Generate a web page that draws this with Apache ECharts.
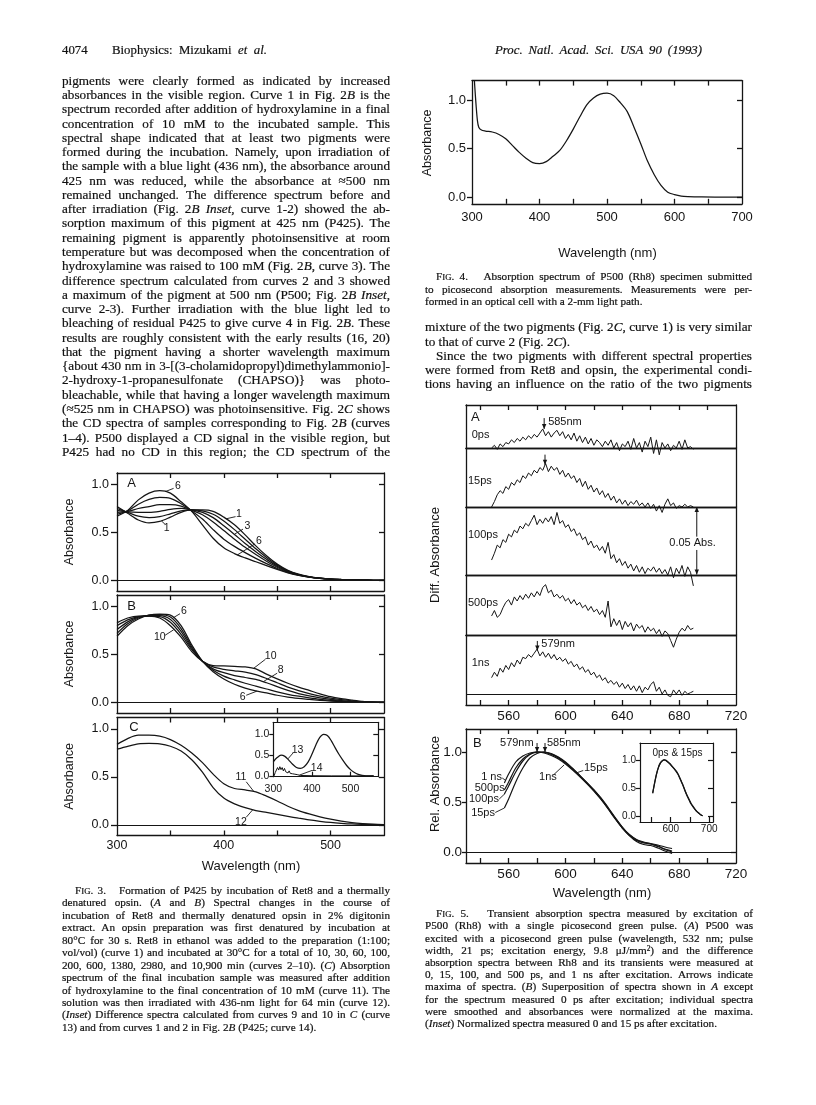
<!DOCTYPE html>
<html>
<head>
<meta charset="utf-8">
<title>Mizukami et al. 1993 – Figs. 3–5</title>
<script src="https://cdn.jsdelivr.net/npm/echarts@6.0.0/dist/echarts.min.js"></script>
<style>
html,body{margin:0;padding:0;background:#fff;}
body{position:relative;width:816px;height:1105px;overflow:hidden;}
#chart{position:absolute;left:0;top:0;width:816px;height:1105px;z-index:1;}
.t{position:absolute;white-space:nowrap;font-family:"Liberation Serif","Times New Roman",Times,serif;color:#111;line-height:1;z-index:2;-webkit-text-stroke:0.2px #111;}
.t small{font-size:78%;}
.t sup{font-size:65%;line-height:0;vertical-align:0.45em;}
</style>
</head>
<body>
<div id="chart"></div>
<script>
// ================= DATA =================
// ---- Fig. 3 (A, B, C): absorbance vs wavelength (nm)
const wl3 = [300,310,320,330,340,350,360,370,380,390,400,410,420,430,440,450,460,470,480,490,500,510,520,530,540,550];
const a1 = [.77,.70,.63,.60,.615,.66,.71,.735,.735,.72,.66,.58,.475,.36,.257,.17,.105,.065,.04,.025,.015,.01,.006,.004,.002,.001];
const a2 = [.75,.71,.67,.655,.665,.695,.725,.735,.725,.69,.62,.53,.43,.33,.24,.16,.10,.062,.038,.024,.015,.01,.006,.004,.002,.001];
const a3 = [.73,.715,.71,.71,.72,.74,.75,.735,.71,.655,.57,.48,.385,.30,.22,.148,.095,.06,.037,.023,.014,.009,.006,.004,.002,.001];
const a4 = [.71,.72,.75,.77,.79,.79,.775,.73,.685,.61,.52,.43,.345,.27,.20,.138,.09,.057,.036,.022,.014,.009,.005,.003,.002,.001];
const a5 = [.69,.725,.795,.845,.865,.855,.80,.725,.64,.53,.43,.355,.29,.23,.175,.125,.085,.055,.035,.022,.014,.009,.005,.003,.002,.001];
const a6 = [.67,.73,.84,.91,.935,.91,.82,.72,.58,.44,.34,.28,.235,.195,.155,.115,.08,.054,.034,.022,.014,.009,.005,.003,.002,.001];
const b6 = [.69,.80,.87,.91,.92,.91,.80,.60,.43,.32,.245,.19,.15,.12,.10,.075,.055,.042,.032,.022,.014,.008,.005,.003,.001,0];
const b7 = [.72,.82,.88,.91,.915,.89,.77,.58,.43,.335,.275,.235,.20,.17,.14,.11,.085,.065,.048,.033,.022,.014,.008,.005,.002,.001];
const b8 = [.76,.84,.89,.905,.905,.865,.74,.565,.43,.35,.31,.28,.26,.24,.205,.165,.125,.093,.068,.047,.031,.02,.012,.006,.003,.001];
const b9 = [.80,.86,.895,.90,.895,.835,.71,.55,.43,.37,.345,.33,.315,.29,.25,.205,.16,.124,.093,.067,.045,.029,.017,.009,.004,.002];
const b10 = [.83,.88,.90,.90,.88,.80,.68,.53,.43,.385,.38,.375,.37,.35,.295,.245,.20,.16,.125,.09,.06,.04,.025,.012,.006,.003];
const c11 = [.84,.90,.935,.935,.925,.89,.83,.75,.65,.53,.43,.38,.365,.345,.30,.25,.195,.15,.115,.085,.06,.04,.025,.015,.008,.004];
const c12 = [.79,.82,.845,.85,.845,.82,.77,.68,.55,.39,.28,.22,.18,.15,.13,.11,.09,.07,.052,.038,.026,.017,.01,.006,.003,.001];
// Fig. 3C inset: difference spectra
const wlInset3 = [300,310,320,330,340,350,360,370,380,390,400,410,420,430,440,450,460,470,480,490,500,510,520,530,540,550,560];
const c13 = [.34,.44,.50,.47,.38,.28,.20,.18,.22,.33,.52,.74,.92,1.0,.97,.85,.68,.52,.38,.25,.15,.08,.035,.01,0,0,0];
const wl14 = [302,305,308,311,314,317,320,323,326,329,332,335,338,341,344,347,350,353,356,359,362,370,400,450,500,560];
const c14 = [0,.08,.12,.2,.14,.22,.15,.2,.12,.18,.1,.14,.07,.12,.06,.1,.05,.09,.04,.07,.03,.01,.004,0,0,0];

// ---- Fig. 4: absorption spectrum of P500 (Rh8)
const wl4 = [302,304,306,308,310,314,320,330,340,350,360,370,380,390,400,410,420,430,440,450,460,470,480,490,500,510,520,530,540,550,560,570,580,590,600,610,620,640,660,680,700];
const abs4 = [1.4,1.15,.95,.79,.72,.69,.68,.67,.645,.60,.53,.46,.40,.355,.345,.365,.42,.48,.58,.70,.83,.95,1.02,1.06,1.07,1.045,.97,.88,.72,.55,.37,.23,.12,.05,.025,.01,.005,.001,0,0,0];

// ---- Fig. 5A: difference absorbance traces (units of 0.001 Abs)
const wl5A = [548,550,552,554,556,558,560,562,564,566,568,570,572,574,576,578,580,582,584,586,588,590,592,594,596,598,600,602,604,606,608,610,612,614,616,618,620,622,624,626,628,630,632,634,636,638,640,642,644,646,648,650,652,654,656,658,660,662,664,666,668,670,672,674,676,678,680,682,684,686,688,690];
const d0ps = [0,2,-1,3,1,4,3,6,4,7, 5,8,6,9,7,10,8,11,14,9, 12,8,11,13,9,12,7,10,6,11, 5,9,4,8,3,7,2,6,4,1, 5,2,6,0,4,-2,3,1,5,-1, 7,0,4,-3,5,1,8,-4,6,-5, 4,0,3,-2,2,0,5,-1,6,0,1,-1];
const d15ps = [0,4,9,12,10,15,13,18,16,20, 18,23,21,25,23,27,25,29,27,32, 26,30,27,29,24,27,22,25,21,23, 18,21,15,19,13,16,11,14,9,12, 7,10,5,8,3,6,2,5,1,4, 2,5,1,3,0,3,-1,2,-3,1, -4,2,6,1,3,-1,1,0,2,0,1,0];
const d100ps = [11,16,22,20,26,24,30,28,33,31, 36,34,38,36,40,44,37,41,38,42, 39,43,37,46,38,40,35,37,32,34, 29,31,26,28,22,25,20,22,18,21, 16,24,12,15,9,12,7,10,5,8, 3,7,2,6,1,5,3,6,2,5, 1,4,0,6,-2,5,1,7,-1,6,2,-8];
const d500ps = [14,18,13,15,20,24,26,22,28,25, 29,26,30,27,31,28,32,29,35,37, 31,33,28,30,27,29,25,27,23,26, 22,24,20,22,18,21,17,19,15,18, 13,25,6,12,7,11,4,10,6,9, 3,8,5,7,2,6,3,5,1,4, -1,3,1,-4,-9,-3,2,5,3,7,4,5];
const d1ns = [12,16,13,19,16,21,18,23,20,25, 22,27,26,29,27,30,33,28,31,27, 30,26,29,25,27,24,26,22,24,20, 22,18,20,16,18,14,16,12,14,10, 12,8,10,7,9,5,8,4,7,3, 6,2,6,1,5,3,7,9,2,5, 0,3,-1,-2,3,0,3,-1,2,0,1,2];

// ---- Fig. 5B: smoothed, normalized spectra
const wl5B = [557,560,565,570,575,580,585,590,595,600,605,610,615,620,625,630,635,640,645,650,655,660,665,670,675];
const r1ns = [.69,.78,.90,.96,.99,1.0,.99,.965,.93,.88,.82,.755,.685,.61,.525,.43,.33,.24,.17,.12,.095,.085,.07,.05,.035];
const r500ps = [.62,.70,.84,.93,.98,1.0,.995,.975,.94,.89,.83,.76,.69,.615,.53,.435,.335,.24,.165,.115,.09,.08,.055,.025,0];
const r100ps = [.58,.66,.80,.91,.975,.998,1.0,.98,.945,.895,.835,.765,.695,.62,.54,.445,.345,.25,.165,.105,.075,.065,.04,.01,-.015];
const r15ps = [.44,.53,.70,.84,.94,.985,1.0,.985,.95,.90,.835,.765,.69,.62,.535,.44,.34,.245,.175,.125,.10,.08,.06,.03,.01];
// Fig. 5B inset: normalized spectra 0 ps and 15 ps
const wlInset5 = [553,558,563,568,573,578,583,588,593,598,603,608,613,618,623,628,633,638,643,648,653,658,663,668,673,678,683];
const n0ps = [.40,.58,.74,.86,.94,.98,1.0,.99,.96,.93,.89,.85,.81,.76,.69,.61,.53,.44,.36,.29,.22,.17,.12,.08,.05,.02,0];
const n15ps = [.41,.59,.75,.87,.945,.985,1.0,.985,.955,.925,.885,.845,.80,.75,.68,.60,.52,.43,.35,.28,.21,.16,.115,.075,.045,.02,0];

// ---- ticks and tick labels
const yTicks = [0, 0.5, 1];
const ticks3 = [350,400,450,500];
const labels3 = [300,400,500];
const ticksInset3 = [400,500];
const ticks4 = [350,400,450,500,550,600,650];
const labels4 = [300,400,500,600,700];
const ticks5 = [540,560,580,600,620,640,660,680,700];
const labels5 = [560,600,640,680,720];
const ticksInset5 = [550,600,650,700];
const labelsInset5 = [600,700];

// ---- curve-number annotations: [text, labelX, labelY, leaderX1, leaderY1, leaderX2, leaderY2] (data units)
const notes3A = [['6',357,0.985,353,0.96,345,0.925],['1',346.5,0.548,345,0.585,341.5,0.622],['1',414.2,0.694,411,0.665,402,0.642],['3',422,0.564,418,0.535,410,0.482],['6',433,0.415,429,0.38,413,0.268]];
const notes3B = [['6',362.7,0.948,359,0.925,353,0.885],['10',340,0.68,345,0.70,353,0.757],['10',443.9,0.486,439,0.45,428,0.356],['8',453.3,0.333,450,0.305,437,0.217],['6',417.7,0.056,421,0.075,431,0.118]];
const notes3C = [['11',416,0.50,421,0.45,428,0.35],['12',416,0.034,421,0.08,427,0.157]];
const notes3Inset = [['13',363,0.62,352,0.56,338,0.41],['14',412.4,0.185,400,0.13,368,0.02]];

// ================= TEXT =================
const headerLeft = [['4074',false]];
const headerMid = [['Biophysics: Mizukami <i>et al.</i>',true]];
const headerRight = [['Proc. Natl. Acad. Sci. USA 90 (1993)',true]];
const leftBody = [
['pigments were clearly formed as indicated by increased',true],
['absorbances in the visible region. Curve 1 in Fig. 2<i>B</i> is the',true],
['spectrum recorded after addition of hydroxylamine in a final',true],
['concentration of 10 mM to the incubated sample. This',true],
['spectral shape indicated that at least two pigments were',true],
['formed during the incubation. Namely, upon irradiation of',true],
['the sample with a blue light (436 nm), the absorbance around',true],
['425 nm was reduced, while the absorbance at ≈500 nm',true],
['remained unchanged. The difference spectrum before and',true],
['after irradiation (Fig. 2<i>B Inset</i>, curve 1-2) showed the ab-',true],
['sorption maximum of this pigment at 425 nm (P425). The',true],
['remaining pigment is apparently photoinsensitive at room',true],
['temperature but was decomposed when the concentration of',true],
['hydroxylamine was raised to 100 mM (Fig. 2<i>B</i>, curve 3). The',true],
['difference spectrum calculated from curves 2 and 3 showed',true],
['a maximum of the pigment at 500 nm (P500; Fig. 2<i>B Inset</i>,',true],
['curve 2-3). Further irradiation with the blue light led to',true],
['bleaching of residual P425 to give curve 4 in Fig. 2<i>B</i>. These',true],
['results are roughly consistent with the early results (16, 20)',true],
['that the pigment having a shorter wavelength maximum',true],
['{about 430 nm in 3-[(3-cholamidopropyl)dimethylammonio]-',true],
['2-hydroxy-1-propanesulfonate (CHAPSO)} was photo-',true],
['bleachable, while that having a longer wavelength maximum',true],
['(≈525 nm in CHAPSO) was photoinsensitive. Fig. 2<i>C</i> shows',true],
['the CD spectra of samples corresponding to Fig. 2<i>B</i> (curves',true],
['1–4). P500 displayed a CD signal in the visible region, but',true],
['P425 had no CD in this region; the CD spectrum of the',true]];
const fig4Caption = [
['F<small>IG</small>. 4.&nbsp;&nbsp; Absorption spectrum of P500 (Rh8) specimen submitted',true,11],
['to picosecond absorption measurements. Measurements were per-',true],
['formed in an optical cell with a 2-mm light path.',false]];
const rightBody = [
['mixture of the two pigments (Fig. 2<i>C</i>, curve 1) is very similar',true],
['to that of curve 2 (Fig. 2<i>C</i>).',false],
['Since the two pigments with different spectral properties',true,11],
['were formed from Ret8 and opsin, the experimental condi-',true],
['tions having an influence on the ratio of the two pigments',true]];
const fig3Caption = [
['F<small>IG</small>. 3.&nbsp;&nbsp; Formation of P425 by incubation of Ret8 and a thermally',true,13],
['denatured opsin. (<i>A</i> and <i>B</i>) Spectral changes in the course of',true],
['incubation of Ret8 and thermally denatured opsin in 2% digitonin',true],
['extract. An opsin preparation was first denatured by incubation at',true],
['80°C for 30 s. Ret8 in ethanol was added to the preparation (1:100;',true],
['vol/vol) (curve 1) and incubated at 30°C for a total of 10, 30, 60, 100,',true],
['200, 600, 1380, 2980, and 10,900 min (curves 2–10). (<i>C</i>) Absorption',true],
['spectrum of the final incubation sample was measured after addition',true],
['of hydroxylamine to the final concentration of 10 mM (curve 11). The',true],
['solution was then irradiated with 436-nm light for 64 min (curve 12).',true],
['(<i>Inset</i>) Difference spectra calculated from curves 9 and 10 in <i>C</i> (curve',true],
['13) and from curves 1 and 2 in Fig. 2<i>B</i> (P425; curve 14).',false]];
const fig5Caption = [
['F<small>IG</small>. 5.&nbsp;&nbsp; Transient absorption spectra measured by excitation of',true,11],
['P500 (Rh8) with a single picosecond green pulse. (<i>A</i>) P500 was',true],
['excited with a picosecond green pulse (wavelength, 532 nm; pulse',true],
['width, 21 ps; excitation energy, 9.8 μJ/mm<sup>2</sup>) and the difference',true],
['absorption spectra between Rh8 and its transients were measured at',true],
['0, 15, 100, and 500 ps, and 1 ns after excitation. Arrows indicate',true],
['maxima of spectra. (<i>B</i>) Superposition of spectra shown in <i>A</i> except',true],
['for the spectrum measured 0 ps after excitation; individual spectra',true],
['were smoothed and absorbances were normalized at the maxima.',true],
['(<i>Inset</i>) Normalized spectra measured 0 and 15 ps after excitation.',false]];

function block(lines, x, y, w, lh, fs, italic){
  lines.forEach((ln,i)=>{
    const html = ln[0], just = ln[1], ind = ln[2]||0;
    const d = document.createElement('div');
    d.className = 't';
    d.style.left = (x+ind)+'px';
    d.style.top = (y + i*lh - fs*0.6)+'px';
    d.style.fontSize = fs+'px';
    if (italic) d.style.fontStyle = 'italic';
    d.innerHTML = html;
    document.body.appendChild(d);
    if (just){
      const nat = d.getBoundingClientRect().width;
      const n = (d.textContent.match(/[ \u00a0]/g)||[]).length;
      if (n) d.style.wordSpacing = ((w-ind-nat)/n)+'px';
      else d.style.letterSpacing = ((w-nat)/Math.max(1,d.textContent.length-1))+'px';
    }
  });
}
block(headerLeft, 62, 52, 25, 14, 12.8);
block(headerMid, 112, 52, 155, 14, 12.8);
block(headerRight, 495, 52, 207, 14, 12.8, true);
block(leftBody, 62, 81.7, 328, 14.27, 13.2);
block(fig4Caption, 425, 278, 327, 12.4, 11.2);
block(rightBody, 425, 328.3, 327, 14.2, 13.2);
block(fig3Caption, 62, 891.7, 328, 12.45, 11.2);
block(fig5Caption, 425, 915, 328, 12.2, 11.2);

// ================= CHART =================
const INK = '#151515';
const SANS = '"Liberation Sans", Arial, Helvetica, sans-serif';
const chart = echarts.init(document.getElementById('chart'), null, {renderer:'canvas'});
const grids = [], xAxis = [], yAxis = [], series = [];

function panel(o){
  const g = grids.length;
  grids.push({left:o.left, top:o.top, width:o.width, height:o.height, containLabel:false});
  const ls = {color:INK, width:o.lw||1.3};
  const xi = xAxis.length, yi = yAxis.length;
  const lab = (vals, m, fmt) => vals ? {show:true, customValues:vals, color:INK, fontSize:o.fs, fontFamily:SANS, margin:m, formatter:fmt} : {show:false};
  const tk = (vals, inside, len) => vals ? {show:true, inside:inside, length:len, customValues:vals, lineStyle:ls} : {show:false};
  xAxis.push({type:'value', gridIndex:g, position:'bottom', min:o.x[0], max:o.x[1], splitLine:{show:false},
    axisLine:{show:true, onZero:false, lineStyle:ls}, axisTick:tk(o.xtB,true,5), axisLabel:lab(o.xl,o.xm,v=>String(Math.round(v)))});
  xAxis.push({type:'value', gridIndex:g, position:'top', min:o.x[0], max:o.x[1], splitLine:{show:false},
    axisLine:{show:true, onZero:false, lineStyle:ls}, axisTick:tk(o.xtT,true,5), axisLabel:{show:false}});
  yAxis.push({type:'value', gridIndex:g, position:'left', min:o.y[0], max:o.y[1], splitLine:{show:false},
    axisLine:{show:true, onZero:false, lineStyle:ls}, axisTick:tk(o.ytL,false,o.ytlen||6), axisLabel:lab(o.yl,o.ym,v=>Number(v).toFixed(1))});
  yAxis.push({type:'value', gridIndex:g, position:'right', min:o.y[0], max:o.y[1], splitLine:{show:false},
    axisLine:{show:true, onZero:false, lineStyle:ls}, axisTick:tk(o.ytR,true,5), axisLabel:{show:false}});
  return {g, xi, yi};
}
function curve(p, xs, ys, o){
  o = o||{};
  const s = {type:'line', xAxisIndex:p.xi, yAxisIndex:p.yi, data:xs.map((x,i)=>[x,ys[i]]),
    symbol:'none', showSymbol:false, smooth:(o.smooth===undefined?0.3:o.smooth), clip:o.clip!==false,
    lineStyle:{color:INK, width:o.w||1.25}, silent:true, z:3};
  if (o.zero) s.markLine = {silent:true, symbol:['none','none'], label:{show:false},
    lineStyle:{color:INK, width:1.2, type:'solid'}, data:[{yAxis:0}], animation:false};
  series.push(s);
}

// Fig. 3
const p3A = panel({left:117, top:473, width:267, height:118, x:[300,550], y:[-0.11,1.12], xtB:ticks3, xtT:ticks3, ytL:yTicks, ytR:yTicks, yl:yTicks, fs:12.5, ym:8});
const p3B = panel({left:117, top:595, width:267, height:118, x:[300,550], y:[-0.11,1.12], xtB:ticks3, xtT:ticks3, ytL:yTicks, ytR:yTicks, yl:yTicks, fs:12.5, ym:8});
const p3C = panel({left:117, top:717.5, width:267, height:118, x:[300,550], y:[-0.11,1.12], xtB:ticks3, xtT:ticks3, ytL:yTicks, ytR:yTicks, yl:yTicks, xl:labels3, fs:12.5, ym:8, xm:4});
const p3I = panel({left:273.3, top:722.3, width:105, height:54.4, x:[300,572], y:[-0.02,1.29], xtB:ticksInset3, ytL:yTicks, ytR:[0.5,1], yl:yTicks, xl:labels3, fs:10.5, ym:4, xm:7, ytlen:4, lw:1.2});
[a1,a2,a3,a4,a5,a6].forEach((d,i)=>curve(p3A, wl3, d, {zero:i===0}));
[b6,b7,b8,b9,b10].forEach((d,i)=>curve(p3B, wl3, d, {zero:i===0}));
curve(p3C, wl3, c11, {zero:true});
curve(p3C, wl3, c12);
curve(p3I, wlInset3, c13);
curve(p3I, wl14, c14, {smooth:false, w:1});

// Fig. 4
const p4 = panel({left:472, top:80.6, width:270, height:123.2, x:[300,700], y:[-0.07,1.2], xtB:ticks4, xtT:ticks4, ytL:yTicks, ytR:yTicks, yl:yTicks, xl:labels4, fs:13, ym:6, xm:7, ytlen:5});
curve(p4, wl4, abs4, {smooth:0.3});

// Fig. 5A: five stacked traces, 0.05 Abs = 68 px
const mAbsPerPx = 50/68;
const rows5 = [[405,43,0],[448,59,0],[507,68,0],[575,60,0],[635,70,11]];
const p5 = rows5.map((r,i)=>panel({left:466, top:r[0], width:270, height:r[1], x:[530,720],
  y:[-r[2]*mAbsPerPx, (r[1]-r[2])*mAbsPerPx], xtT:(i===0?ticks5:null), xtB:(i===4?ticks5:null), xl:(i===4?labels5:null), fs:13.5, xm:4}));
[d0ps,d15ps,d100ps,d500ps,d1ns].forEach((d,i)=>curve(p5[i], wl5A, d, {smooth:false, w:1, clip:false, zero:i===4}));

// Fig. 5B
const p5B = panel({left:466, top:729, width:270, height:134, x:[530,720], y:[-0.11,1.23], xtB:ticks5, xtT:ticks5, ytL:yTicks, ytR:yTicks, yl:yTicks, xl:labels5, fs:13.5, ym:4, xm:4, ytlen:4});
[r1ns,r500ps,r100ps,r15ps].forEach((d,i)=>curve(p5B, wl5B, d, {zero:i===0, w:1.2}));
const p5I = panel({left:640, top:743, width:73, height:79, x:[520,710], y:[-0.11,1.30], xtB:ticksInset5, ytL:yTicks, ytR:yTicks, yl:yTicks, xl:labelsInset5, fs:10, ym:4, xm:2, ytlen:4, lw:1.2});
curve(p5I, wlInset5, n0ps, {w:1.2});
curve(p5I, wlInset5, n15ps, {w:1.2});

chart.setOption({animation:false, textStyle:{fontFamily:SANS}, grid:grids, xAxis:xAxis, yAxis:yAxis, series:series});

// ================= ANNOTATIONS =================
const G = [];
function px(p,x,y){ return chart.convertToPixel({xAxisIndex:p.xi, yAxisIndex:p.yi}, [x,y]); }
function label(p,x,y,s,o){ o=o||{}; const q=px(p,x,y);
  G.push({type:'text', x:q[0], y:q[1], silent:true, z:20, style:{text:s, fill:INK, font:(o.fs||11)+'px '+SANS, align:o.align||'center', verticalAlign:'middle'}}); }
function seg(p,x1,y1,x2,y2,w){ const a=px(p,x1,y1), b=px(p,x2,y2);
  G.push({type:'line', silent:true, z:20, shape:{x1:a[0],y1:a[1],x2:b[0],y2:b[1]}, style:{stroke:INK, lineWidth:w||0.9}}); }
function arrow(p,x1,y1,x2,y2){ seg(p,x1,y1,x2,y2,1); const a=px(p,x1,y1), b=px(p,x2,y2);
  const ang=Math.atan2(b[1]-a[1], b[0]-a[0]), c=Math.cos(ang), s=Math.sin(ang), L=5, W=2.2;
  G.push({type:'polygon', silent:true, z:20, shape:{points:[[b[0],b[1]],[b[0]-L*c-W*s, b[1]-L*s+W*c],[b[0]-L*c+W*s, b[1]-L*s-W*c]]}, style:{fill:INK}}); }
function ptext(x,y,s,fs,rot){ G.push({type:'text', x:x, y:y, rotation:rot||0, silent:true, z:20, style:{text:s, fill:INK, font:fs+'px '+SANS, align:'center', verticalAlign:'middle'}}); }
function notes(p, list){ list.forEach(n=>{ label(p,n[1],n[2],n[0],{fs:10.5}); seg(p,n[3],n[4],n[5],n[6],0.9); }); }

// Fig. 3
label(p3A, 309.7, 1.01, 'A', {fs:13, align:'left'});
label(p3B, 309.7, 1.0, 'B', {fs:13, align:'left'});
label(p3C, 311.5, 1.02, 'C', {fs:13, align:'left'});
notes(p3A, notes3A); notes(p3B, notes3B); notes(p3C, notes3C); notes(p3I, notes3Inset);
ptext(70, 532, 'Absorbance', 12.5, Math.PI/2);
ptext(70, 654, 'Absorbance', 12.5, Math.PI/2);
ptext(70, 776.5, 'Absorbance', 12.5, Math.PI/2);
ptext(251, 866.7, 'Wavelength (nm)', 13, 0);

// Fig. 4
ptext(428, 143, 'Absorbance', 12.5, Math.PI/2);
ptext(607.5, 253, 'Wavelength (nm)', 13, 0);

// Fig. 5A
label(p5[0], 533.5, 22.8, 'A', {fs:13, align:'left'});
label(p5[0], 534, 9.6, '0ps', {align:'left'});
arrow(p5[0], 585, 22, 585, 14);
label(p5[0], 587.8, 19.3, '585nm', {align:'left'});
label(p5[1], 531.4, 19.1, '15ps', {align:'left'});
arrow(p5[1], 585.6, 38.5, 585.6, 31);
label(p5[2], 531.4, 29.4, '100ps', {align:'left'});
arrow(p5[2], 692.4, 28.2, 692.4, 50);
arrow(p5[2], 692.4, 18.4, 692.4, 0.3);
label(p5[2], 689.4, 23.5, '0.05 Abs.', {});
label(p5[3], 531.4, 23.5, '500ps', {align:'left'});
label(p5[4], 534, 22.8, '1ns', {align:'left'});
arrow(p5[4], 580.2, 39, 580.2, 32);
label(p5[4], 583, 36.5, '579nm', {align:'left'});
ptext(435, 555, 'Diff. Absorbance', 13, Math.PI/2);

// Fig. 5B
label(p5B, 535, 1.09, 'B', {fs:13, align:'left'});
label(p5B, 577.6, 1.09, '579nm', {align:'right'});
arrow(p5B, 580, 1.09, 580, 1.0);
label(p5B, 587, 1.09, '585nm', {align:'left'});
arrow(p5B, 585.6, 1.09, 585.6, 1.0);
label(p5B, 555.3, 0.755, '1 ns', {align:'right'}); seg(p5B, 555.5, 0.74, 558, 0.715);
label(p5B, 557.2, 0.64, '500ps', {align:'right'});
label(p5B, 553.2, 0.53, '100ps', {align:'right'}); seg(p5B, 553.4, 0.53, 557.5, 0.585);
label(p5B, 550.4, 0.39, '15ps', {align:'right'}); seg(p5B, 550.6, 0.395, 557, 0.44);
label(p5B, 581.4, 0.75, '1ns', {align:'left'}); seg(p5B, 591.5, 0.77, 599, 0.87);
label(p5B, 613, 0.84, '15ps', {align:'left'}); seg(p5B, 612.5, 0.815, 607.5, 0.79);
label(p5I, 617.6, 1.125, '0ps & 15ps', {fs:10});
ptext(435, 784, 'Rel. Absorbance', 13, Math.PI/2);
ptext(602, 893, 'Wavelength (nm)', 13, 0);

chart.setOption({graphic:G});
</script>
</body>
</html>
